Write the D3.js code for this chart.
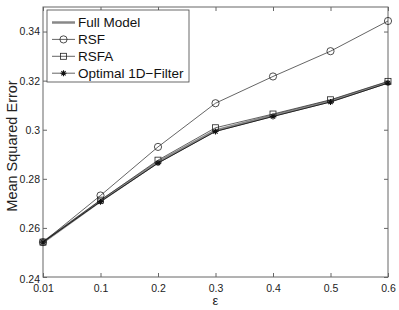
<!DOCTYPE html>
<html>
<head>
<meta charset="utf-8">
<script src="https://cdn.jsdelivr.net/npm/d3@7"></script>
<style>
  body { margin: 0; background: #fff; }
  svg { display: block; font-family: "Liberation Sans", Arial, sans-serif; }
</style>
</head>
<body>
<svg id="chart" width="399" height="310"></svg>
<script>
// data
const epsLabels = ['0.01', '0.1', '0.2', '0.3', '0.4', '0.5', '0.6'];
const fullModel = [0.2542, 0.2710, 0.2868, 0.2997, 0.3058, 0.3117, 0.3193];
const rsf       = [0.2542, 0.2732, 0.2930, 0.3108, 0.3217, 0.3320, 0.3443];
const rsfa      = [0.2542, 0.2713, 0.2876, 0.3008, 0.3064, 0.3122, 0.3197];
const optimal   = [0.2542, 0.2707, 0.2864, 0.2993, 0.3054, 0.3113, 0.3190];
const yTicks = [0.24, 0.26, 0.28, 0.3, 0.32, 0.34];

const svg = d3.select('#chart');
const m = {left: 43, right: 388, top: 7, bottom: 277};

const x = d3.scalePoint().domain(epsLabels).range([m.left, m.right]);
const y = d3.scaleLinear().domain([0.24, 0.35]).range([m.bottom, m.top]);

// axes box
svg.append('rect')
  .attr('x', m.left).attr('y', m.top)
  .attr('width', m.right - m.left).attr('height', m.bottom - m.top)
  .attr('fill', '#fff').attr('stroke', '#666').attr('stroke-width', 1);

// ticks on all four sides, pointing inward
const gx = svg.append('g').attr('transform', `translate(0,${m.bottom})`)
  .call(d3.axisBottom(x).tickSizeInner(-4).tickSizeOuter(0).tickPadding(8));
svg.append('g').attr('transform', `translate(0,${m.top})`)
  .call(d3.axisTop(x).tickSizeInner(-4).tickSizeOuter(0).tickFormat(''));

const fmtY = d => d3.format('.2f')(d).replace(/^0\.30$/, '0.3');
const gy = svg.append('g').attr('transform', `translate(${m.left},0)`)
  .call(d3.axisLeft(y).tickValues(yTicks).tickSizeInner(-4).tickSizeOuter(0).tickPadding(3).tickFormat(fmtY));
svg.append('g').attr('transform', `translate(${m.right},0)`)
  .call(d3.axisRight(y).tickValues(yTicks).tickSizeInner(-4).tickSizeOuter(0).tickFormat(''));

svg.selectAll('.domain').remove();
svg.selectAll('.tick line').attr('stroke', '#666');
svg.selectAll('.tick text').attr('font-size', 10.5).attr('fill', '#222')
  .attr('font-family', '"Liberation Sans", Arial, sans-serif');
gy.selectAll('.tick text').filter(d => d === 0.24).attr('dy', '0.55em');

// axis labels
svg.append('text').attr('x', (m.left + m.right) / 2).attr('y', 305)
  .attr('text-anchor', 'middle').attr('font-size', 13).attr('fill', '#222').text('ε');
svg.append('text').attr('transform', `translate(17,146) rotate(-90)`)
  .attr('text-anchor', 'middle').attr('font-size', 14.5).attr('fill', '#222').text('Mean Squared Error');

const line = d3.line().x((d, i) => x(epsLabels[i])).y(d => y(d));

// full model: thick gray line
svg.append('path').datum(fullModel).attr('d', line)
  .attr('fill', 'none').attr('stroke', '#888').attr('stroke-width', 2.5);

const series = [
  {name: 'RSF', values: rsf, marker: 'circle'},
  {name: 'RSFA', values: rsfa, marker: 'square'},
  {name: 'Optimal 1D\u2212Filter', values: optimal, marker: 'star'}
];

function drawMarker(g, type, cx, cy) {
  if (type === 'circle') {
    g.append('circle').attr('cx', cx).attr('cy', cy).attr('r', 3.6)
      .attr('fill', 'none').attr('stroke', '#222').attr('stroke-width', 0.8);
  } else if (type === 'square') {
    g.append('rect').attr('x', cx - 3).attr('y', cy - 3).attr('width', 6).attr('height', 6)
      .attr('fill', 'none').attr('stroke', '#222').attr('stroke-width', 0.8);
  } else {
    const r = 3;
    const p = d3.path();
    for (let k = 0; k < 4; k++) {
      const a = k * Math.PI / 4;
      p.moveTo(cx - r * Math.cos(a), cy - r * Math.sin(a));
      p.lineTo(cx + r * Math.cos(a), cy + r * Math.sin(a));
    }
    g.append('path').attr('d', p.toString()).attr('stroke', '#111').attr('stroke-width', 1.1);
  }
}

series.forEach(s => {
  svg.append('path').datum(s.values).attr('d', line)
    .attr('fill', 'none').attr('stroke', '#222').attr('stroke-width', s.marker === 'star' ? 1 : 0.7);
  const g = svg.append('g');
  s.values.forEach((v, i) => drawMarker(g, s.marker, x(epsLabels[i]), y(v)));
});

// legend
const lg = svg.append('g');
lg.append('rect').attr('x', 47).attr('y', 10).attr('width', 142).attr('height', 72)
  .attr('fill', '#fff').attr('stroke', '#444').attr('stroke-width', 0.8);
const rows = [{name: 'Full Model', marker: null}].concat(series);
rows.forEach((r, i) => {
  const ly = 22.5 + i * 16.9;
  lg.append('line').attr('x1', 52).attr('x2', 75).attr('y1', ly).attr('y2', ly)
    .attr('stroke', r.marker ? '#222' : '#888').attr('stroke-width', r.marker ? 0.7 : 2.5);
  if (r.marker) drawMarker(lg, r.marker, 63.5, ly);
  lg.append('text').attr('x', 78).attr('y', ly).attr('dy', '0.36em')
    .attr('font-size', 13.5).attr('fill', '#111').text(r.name);
});
</script>
</body>
</html>
